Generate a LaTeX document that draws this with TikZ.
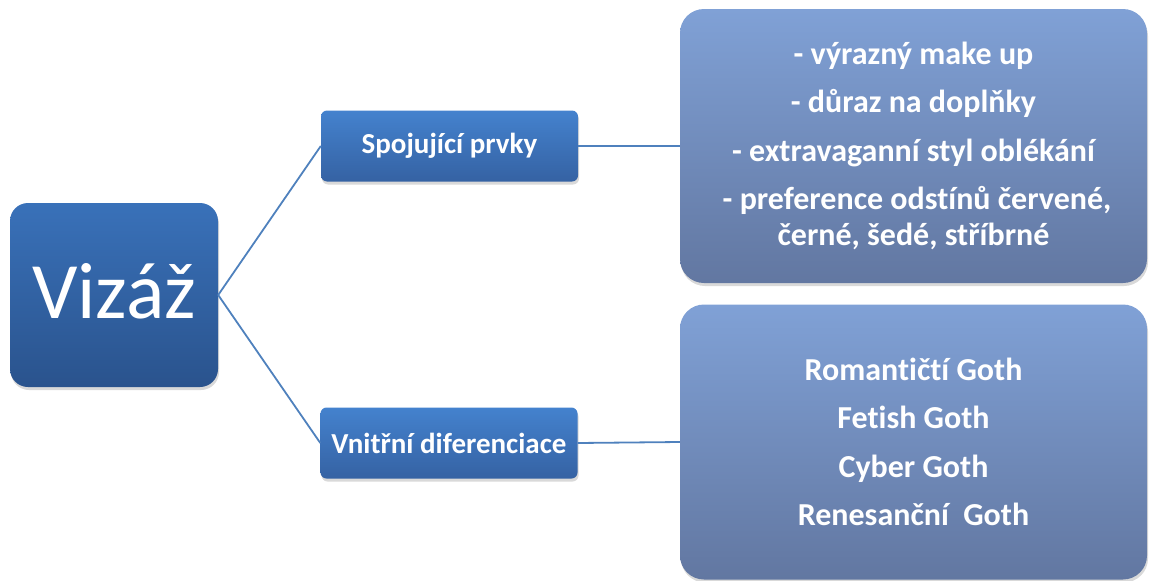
\documentclass[tikz,border=0pt]{standalone}
\usepackage{fontspec}
\setmainfont{Carlito}[Ligatures=NoCommon]
\usepackage{tikz}
\usetikzlibrary{shadows}

\definecolor{rootTop}{HTML}{3971B9}
\definecolor{rootBot}{HTML}{2A538D}
\definecolor{boxTop}{HTML}{4482CE}
\definecolor{boxBot}{HTML}{3562A3}
\definecolor{leafTop}{HTML}{80A1D6}
\definecolor{leafBot}{HTML}{6277A1}
\definecolor{linkCol}{HTML}{4F81BD}

\begin{document}
\begin{tikzpicture}
			[x=1pt, y=-1pt,
			root/.style ={rounded corners=18pt, top color=rootTop, bottom color=rootBot, text=white,
				minimum width=208pt, minimum height=184pt, inner sep=0pt, font=\fontsize{80}{90}\selectfont,
				text height=46pt, text depth=0pt,
				drop shadow={opacity=0.3, shadow xshift=1pt, shadow yshift=-3pt}},
			block/.style ={rounded corners=6pt, top color=boxTop, bottom color=boxBot, text=white,
				minimum width=257pt, minimum height=71pt, inner sep=0pt, font=\fontsize{29}{34}\selectfont\bfseries,
				drop shadow={opacity=0.3, shadow xshift=1pt, shadow yshift=-3pt}},
			leaf/.style ={rounded corners=24pt, top color=leafTop, bottom color=leafBot, text=white, align=center,
				minimum width=467pt, minimum height=274pt, inner sep=0pt, font=\fontsize{32}{36}\selectfont\bfseries,
				drop shadow={opacity=0.3, shadow xshift=1pt, shadow yshift=-3pt}},
			link/.style ={draw=linkCol, line width=1.8pt}]
			\useasboundingbox (0,0) rectangle (1149,581);
			\node[root] (viz) at (114,295) {Vizáž};
			\node[block] (spoj) at (449.5,146) {Spojující prvky};
			\node[block] (vnit) at (449,443) {Vnitřní diferenciace};
			\node[leaf] (prvky) at (913.5,146) {- výrazný make up\\[12.5pt]
				- důraz na doplňky\\[12.5pt]
				- extravaganní styl oblékání\\[12.5pt]
				\ - preference odstínů červené,\\
				černé, šedé, stříbrné};
			\node[leaf, minimum height=275pt] (goth) at (913.5,442) {Romantičtí Goth\\[12.5pt]
				Fetish Goth\\[12.5pt]
				Cyber Goth\\[12.5pt]
				Renesanční\ \ Goth};
			\draw[link] (viz.east) -- (spoj.west);
			\draw[link] (viz.east) -- (vnit.west);
			\draw[link] (spoj.east) -- (prvky.west);
			\draw[link] (vnit.east) -- (goth.west);
		\end{tikzpicture}
\end{document}
